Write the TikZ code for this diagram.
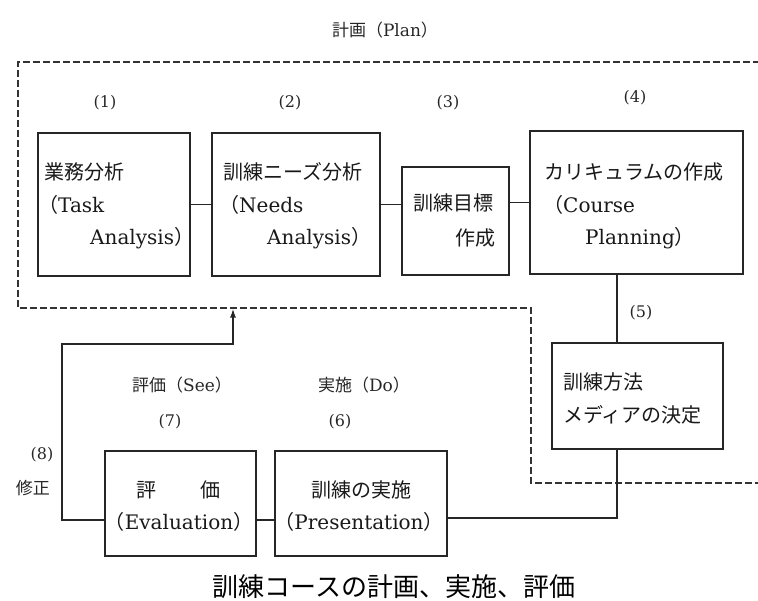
\documentclass[tikz,border=0pt]{standalone}
\usepackage{fontspec}
\setmainfont{DejaVu Serif}
\newfontfamily\cjk{Noto Sans CJK JP}
\usetikzlibrary{arrows.meta}
\newcommand{\J}[1]{{\cjk #1}}
\begin{document}
\begin{tikzpicture}[x=1pt,y=-1pt,
  boxnode/.style={draw=black!85,line width=1.7pt,rectangle,inner sep=0pt},
  conn/.style={draw=black!85,line width=1.7pt},
  planline/.style={draw=black!80,line width=1.4pt,dash pattern=on 7pt off 3pt},
  boxtxt/.style={inner sep=0pt,anchor=west,font=\fontsize{20}{24}\selectfont,text=black!90},
  lbl/.style={inner sep=0pt,font=\fontsize{17}{20}\selectfont,text=black!85},
  numlbl/.style={inner sep=0pt,font=\fontsize{16}{20}\selectfont,text=black!85}
]
\useasboundingbox (0,0) rectangle (758,600);
% planning area (dashed)
\draw[planline] (760,62) -- (18,62) -- (18,308) -- (531,308) -- (531,483) -- (760,483);

% boxes
\node[boxnode,minimum width=152pt,minimum height=143pt] (b1) at (114,204.5) {};
\node[boxnode,minimum width=168pt,minimum height=143pt] (b2) at (296,204.5) {};
\node[boxnode,minimum width=107pt,minimum height=108pt] (b3) at (455.5,221) {};
\node[boxnode,minimum width=213pt,minimum height=143pt] (b4) at (636.5,202.5) {};
\node[boxnode,minimum width=171pt,minimum height=106pt] (b5) at (637.5,396) {};
\node[boxnode,minimum width=172pt,minimum height=105pt] (b6) at (361,503.5) {};
\node[boxnode,minimum width=151pt,minimum height=105pt] (b7) at (180.5,503.5) {};

% box texts
\node[boxtxt] (t1a) at (44,172) {\J{業務分析}};
\node[boxtxt] (t1b) at (38,205) {\J{（}Task};
\node[boxtxt] (t1c) at (90,238) {Analysis\J{）}};
\node[boxtxt] (t2a) at (223,172) {\J{訓練ニーズ分析}};
\node[boxtxt] (t2b) at (219,205) {\J{（}Needs};
\node[boxtxt] (t2c) at (267,238) {Analysis\J{）}};
\node[boxtxt] (t3a) at (413,203) {\J{訓練目標}};
\node[boxtxt,anchor=east] (t3b) at (496,238) {\J{作成}};
\node[boxtxt] (t4a) at (544,172) {\J{カリキュラムの作成}};
\node[boxtxt] (t4b) at (543,205) {\J{（}Course};
\node[boxtxt] (t4c) at (585,238) {Planning\J{）}};
\node[boxtxt] (t5a) at (563,382) {\J{訓練方法}};
\node[boxtxt] (t5b) at (563,415) {\J{メディアの決定}};
\node[boxtxt] (t6a) at (311,490) {\J{訓練の実施}};
\node[boxtxt,anchor=center] (t6b) at (359,522) {\J{（}Presentation\J{）}};
\node[boxtxt] (t7a) at (136,490) {\J{評}\hspace{44pt}\J{価}};
\node[boxtxt,anchor=center] (t7b) at (179,522) {\J{（}Evaluation\J{）}};

% labels
\node[lbl] (plan) at (385,30) {\J{計画（}Plan\J{）}};
\node[numlbl] (n1) at (105,103) {(1)};
\node[numlbl] (n2) at (290,103) {(2)};
\node[numlbl] (n3) at (448,103) {(3)};
\node[numlbl] (n4) at (635,98) {(4)};
\node[numlbl] (n5) at (641,313) {(5)};
\node[lbl] (see) at (182,385) {\J{評価（}See\J{）}};
\node[lbl] (do) at (364,385) {\J{実施（}Do\J{）}};
\node[numlbl] (n7) at (170,422) {(7)};
\node[numlbl] (n6) at (340,422) {(6)};
\node[numlbl] (n8) at (42,455) {(8)};
\node[lbl] (fix) at (33,488) {\J{修正}};

% caption
\node[inner sep=0pt,font=\cjk\fontsize{26}{30}\selectfont] (cap) at (394,587) {訓練コースの計画、実施、評価};

% connectors
\coordinate (k1) at (617,0);
\coordinate (k2) at (0,518);
\coordinate (k3) at (0,520);
\coordinate (fb1) at (62,344);
\coordinate (fb2) at (233,344);
\coordinate (fbend) at (233,308.5);
\draw[conn] (b1.east) -- (b2.west);
\draw[conn] (b2.east) -- (b2.east -| b3.west);
\draw[conn] (b3.east |- b4.west) -- (b4.west);
\draw[conn] (b4.south -| k1) -- (b5.north -| k1);
\draw[conn] (b5.south -| k1) |- (b6.east |- k2);
\draw[conn] (b7.east |- k3) -- (b6.west |- k3);
\draw[conn,-{Latex[length=9pt,width=6pt]}] (b7.west |- k3) -| (fb1) -- (fb2) -- (fbend);
\end{tikzpicture}
\end{document}
